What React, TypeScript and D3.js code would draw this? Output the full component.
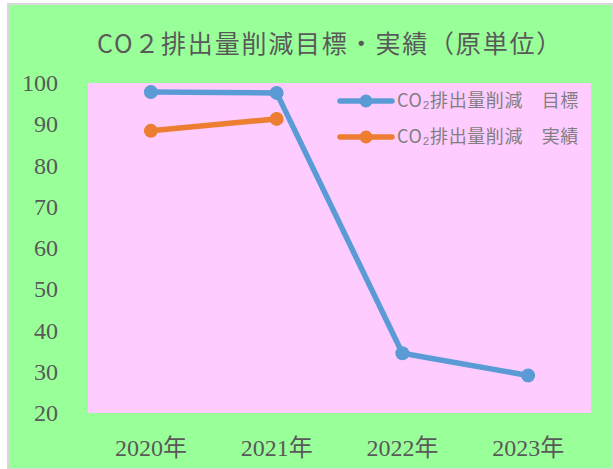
import { useEffect, useRef } from 'react';
import * as d3 from 'd3';

const years = ['2020年', '2021年', '2022年', '2023年'];
const targetValues = [97.8, 97.6, 34.5, 29.1];
const actualValues = [88.4, 91.3];
const yTicks = [20, 30, 40, 50, 60, 70, 80, 90, 100];
const seriesNames = ['CO₂排出量削減　目標', 'CO₂排出量削減　実績'];
const seriesColors = ['#5B9BD5', '#ED7D31'];

export default function App() {
  const svgRef = useRef<SVGSVGElement | null>(null);

  useEffect(() => {
    if (!svgRef.current) return;
    const svg = d3.select(svgRef.current);
    svg.selectAll('*').remove();

    const W = 613;
    const H = 469;
    const plot = { left: 88, top: 83, right: 591, bottom: 413 };

    // frame
    svg.append('rect')
      .attr('x', 8).attr('y', 4)
      .attr('width', W - 8).attr('height', H - 4)
      .attr('fill', '#99FF99')
      .attr('stroke', '#d9d9d9')
      .attr('stroke-width', 2);

    svg.append('rect')
      .attr('x', plot.left).attr('y', plot.top)
      .attr('width', plot.right - plot.left).attr('height', plot.bottom - plot.top)
      .attr('fill', '#FFCCFF');

    // title
    svg.append('text')
      .attr('x', 330).attr('y', 53)
      .attr('text-anchor', 'middle')
      .attr('fill', '#595959')
      .style('font-family', '"Noto Sans CJK JP", sans-serif')
      .style('font-size', '25px')
      .style('letter-spacing', '1.8px')
      .text('CO２排出量削減目標・実績（原単位）');

    const x = d3.scaleBand<string>()
      .domain(years)
      .range([plot.left, plot.right]);

    const y = d3.scaleLinear()
      .domain([20, 100])
      .range([plot.bottom, plot.top]);

    const serif = '"Liberation Serif", "Noto Sans CJK JP", serif';

    // y tick labels
    svg.append('g')
      .selectAll('text')
      .data(yTicks)
      .join('text')
      .attr('x', 58)
      .attr('y', d => y(d) + 8)
      .attr('text-anchor', 'end')
      .attr('fill', '#595959')
      .style('font-family', serif)
      .style('font-size', '24px')
      .text(d => d);

    // x tick labels
    svg.append('g')
      .selectAll('text')
      .data(years)
      .join('text')
      .attr('x', d => x(d)! + x.bandwidth() / 2)
      .attr('y', 456)
      .attr('text-anchor', 'middle')
      .attr('fill', '#595959')
      .style('font-family', serif)
      .style('font-size', '24px')
      .text(d => d);

    const cx = (i: number) => x(years[i])! + x.bandwidth() / 2;

    const line = d3.line<number>()
      .x((_, i) => cx(i))
      .y(d => y(d));

    [targetValues, actualValues].forEach((vals, s) => {
      svg.append('path')
        .datum(vals)
        .attr('fill', 'none')
        .attr('stroke', seriesColors[s])
        .attr('stroke-width', 5.5)
        .attr('stroke-linejoin', 'round')
        .attr('d', line);

      svg.append('g')
        .selectAll('circle')
        .data(vals)
        .join('circle')
        .attr('cx', (_, i) => cx(i))
        .attr('cy', d => y(d))
        .attr('r', 7)
        .attr('fill', seriesColors[s]);
    });

    // legend
    seriesNames.forEach((name, i) => {
      const ly = 101 + i * 36;
      const g = svg.append('g');
      g.append('line')
        .attr('x1', 340).attr('x2', 392)
        .attr('y1', ly).attr('y2', ly)
        .attr('stroke', seriesColors[i])
        .attr('stroke-width', 5.5)
        .attr('stroke-linecap', 'round');
      g.append('circle')
        .attr('cx', 366).attr('cy', ly)
        .attr('r', 6.5)
        .attr('fill', seriesColors[i]);
      g.append('text')
        .attr('x', 397).attr('y', ly)
        .attr('dy', '0.36em')
        .attr('fill', '#7f7f7f')
        .style('font-family', '"Noto Sans CJK JP", sans-serif')
        .style('font-size', '18px')
        .style('letter-spacing', '0.6px')
        .text(name);
    });
  }, []);

  return (
    <svg
      ref={svgRef}
      width={613}
      height={469}
      style={{ position: 'absolute', left: 0, top: 0, display: 'block' }}
    />
  );
}
